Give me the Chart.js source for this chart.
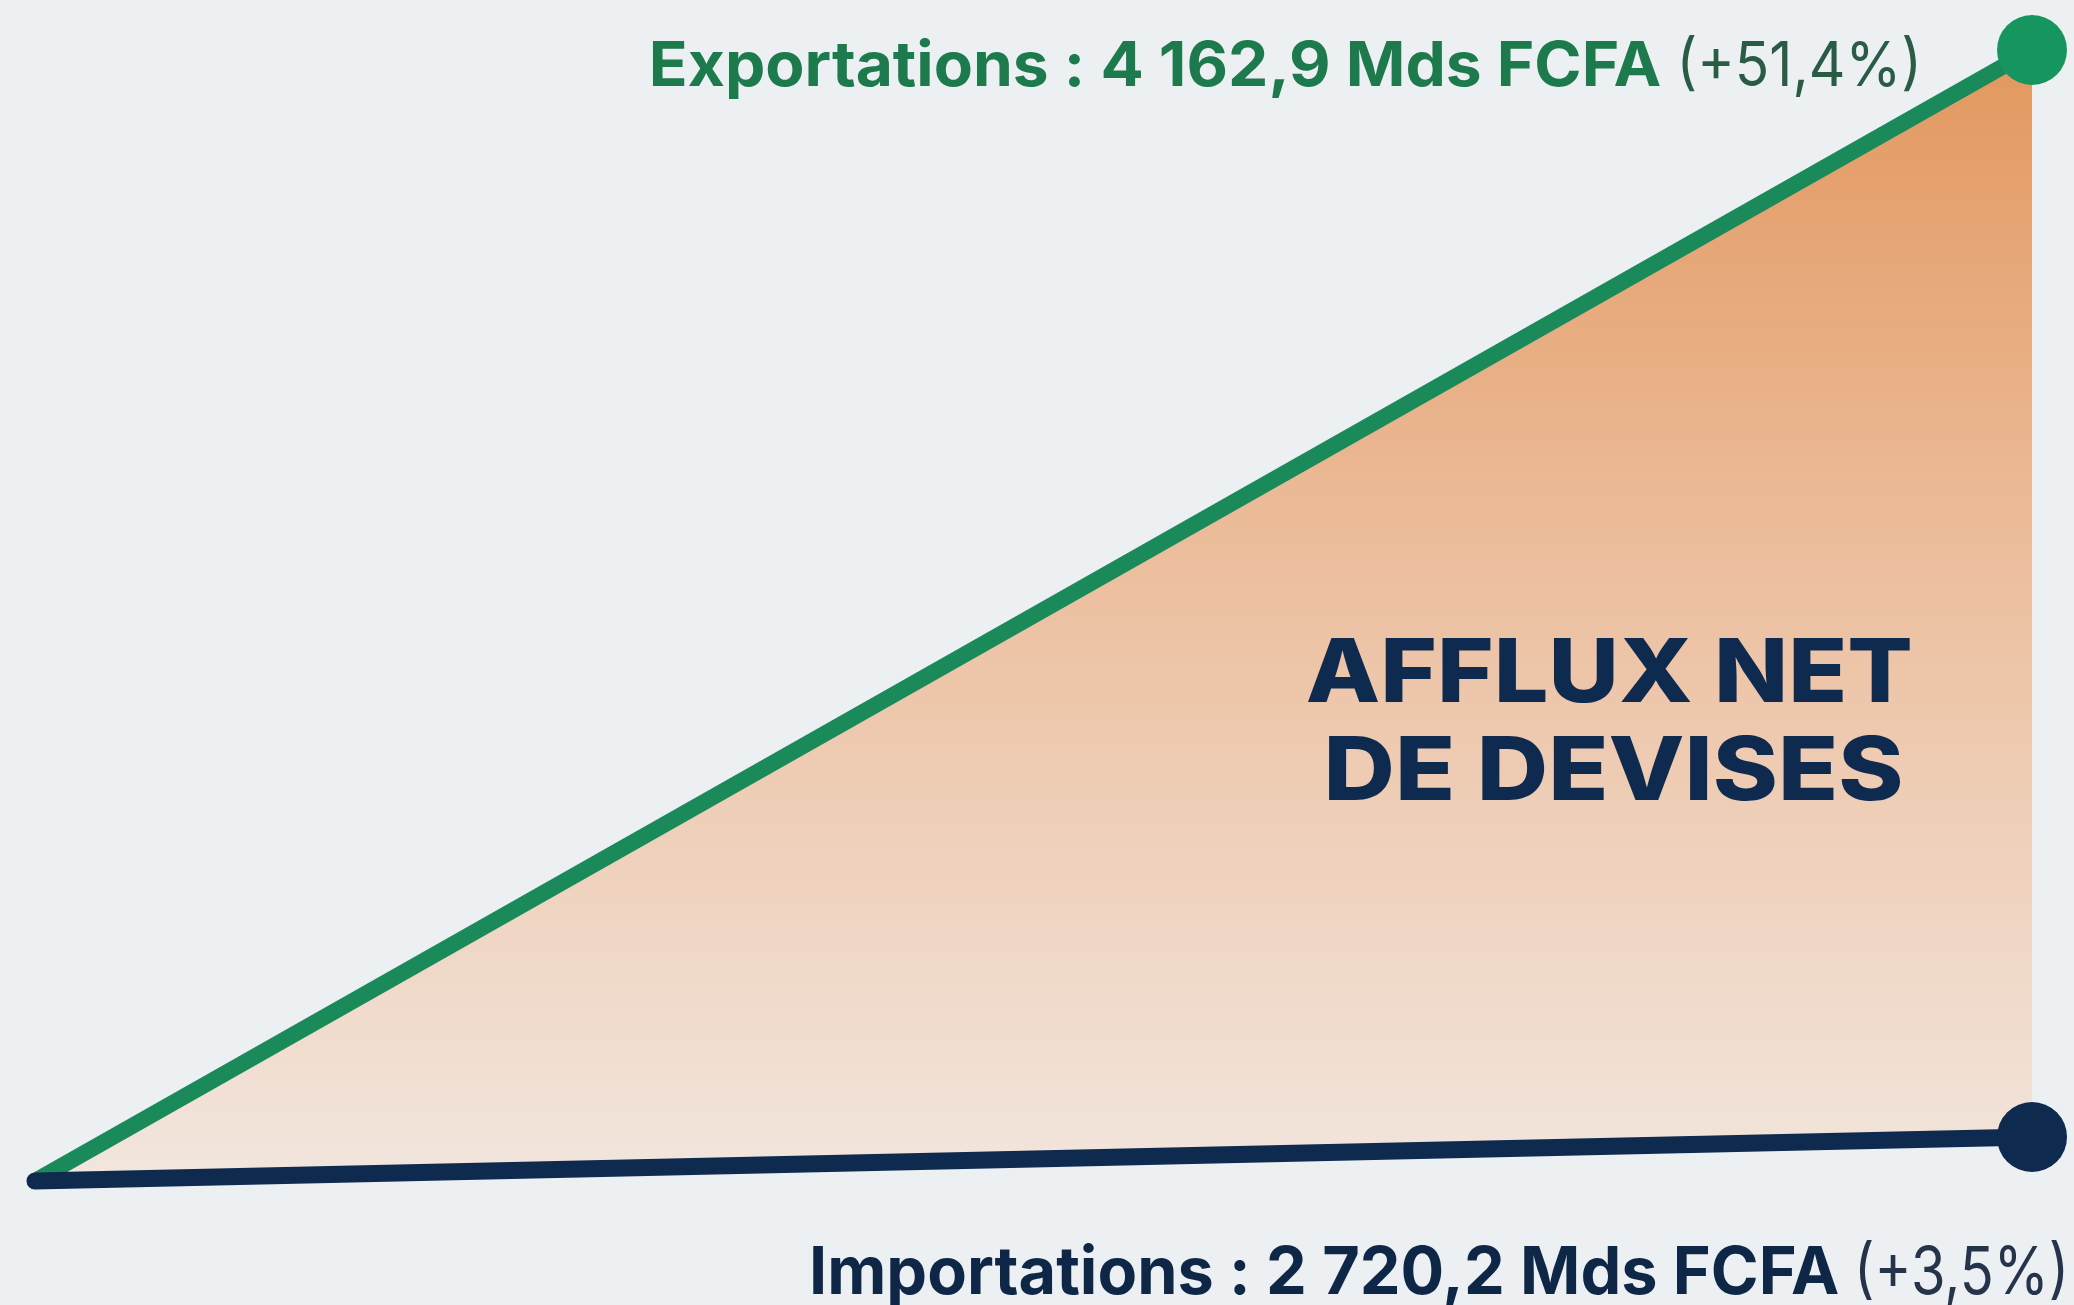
<!DOCTYPE html>
<html lang="fr">
<head>
<meta charset="utf-8">
<title>Afflux net de devises</title>
<script src="https://cdn.jsdelivr.net/npm/chart.js@4.4.1/dist/chart.umd.min.js"></script>
<style>
    html, body { margin: 0; padding: 0; background: #ecf0f3; }
    canvas { display: block; }
</style>
</head>
<body>
<canvas id="fluxChart" width="2074" height="1305"></canvas>
<script>
// x axis: the two periods compared
const periods = ['Avant', 'Après'];
// line heights as they appear in the picture (both start from the same point)
const exportLevels = [0, 51.4];
const importLevels = [0, 2.0];
// texts
const exportLabel = 'Exportations : 4 162,9 Mds FCFA';
const exportChange = '(+51,4%)';
const importLabel = 'Importations : 2 720,2 Mds FCFA';
const importChange = '(+3,5%)';
const centerLines = ['AFFLUX NET', 'DE DEVISES'];

const GREEN = '#1a8a5a';
const NAVY = '#0f2a4f';
const FONT = 'Inter, "Open Sans", "Noto Sans", sans-serif';

// draw text so that its ink spans exactly [left, right]
function fitText(ctx, text, font, color, left, right, baseline) {
    ctx.save();
    ctx.font = font;
    ctx.textAlign = 'left';
    ctx.textBaseline = 'alphabetic';
    const m = ctx.measureText(text);
    const w = m.actualBoundingBoxLeft + m.actualBoundingBoxRight;
    ctx.translate(left, baseline);
    ctx.scale((right - left) / w, 1);
    ctx.fillStyle = color;
    ctx.fillText(text, m.actualBoundingBoxLeft, 0);
    ctx.restore();
}

const labelsPlugin = {
    id: 'fluxLabels',
    afterDatasetsDraw(chart) {
        const ctx = chart.ctx;
        const top = chart.getDatasetMeta(1).data[1];
        const bottom = chart.getDatasetMeta(0).data[1];

        // top label (exports)
        fitText(ctx, exportLabel, '700 62px ' + FONT, '#1d7a4d', 653, 1660, top.y + 36);
        fitText(ctx, exportChange, '400 62px ' + FONT, '#2a5b45', 1682, top.x - 116, top.y + 36);

        // bottom label (imports)
        fitText(ctx, importLabel, '700 66px ' + FONT, '#0f2747', 813, 1838, bottom.y + 157);
        fitText(ctx, importChange, '400 66px ' + FONT, '#25344a', 1860, 2064, bottom.y + 157);

        // centre text
        fitText(ctx, centerLines[0], '800 88px ' + FONT, NAVY, 1308, 1910, 702);
        fitText(ctx, centerLines[1], '800 88px ' + FONT, NAVY, 1328, 1900, 800);
    }
};

const ctx = document.getElementById('fluxChart').getContext('2d');
const chart = new Chart(ctx, {
    type: 'line',
    data: {
        labels: periods,
        datasets: [
            {
                label: 'Importations',
                data: importLevels,
                borderColor: NAVY,
                borderWidth: 17,
                borderCapStyle: 'round',
                pointRadius: [0, 35],
                pointHoverRadius: [0, 35],
                pointBorderWidth: 0,
                pointBackgroundColor: NAVY,
                fill: false,
                clip: false,
            },
            {
                label: 'Exportations',
                data: exportLevels,
                borderColor: GREEN,
                borderWidth: 16,
                borderCapStyle: 'round',
                pointRadius: [0, 35],
                pointHoverRadius: [0, 35],
                pointBorderWidth: 0,
                pointBackgroundColor: '#17955f',
                fill: { target: 0 },
                backgroundColor: function (context) {
                    const area = context.chart.chartArea;
                    if (!area) {
                        return 'rgba(0,0,0,0)';
                    }
                    const g = context.chart.ctx.createLinearGradient(0, area.top, 0, area.bottom);
                    g.addColorStop(0, '#e2975e');
                    g.addColorStop(0.45, '#ecbe9d');
                    g.addColorStop(1, '#f2e6de');
                    return g;
                },
                clip: false,
            },
        ],
    },
    options: {
        responsive: false,
        devicePixelRatio: 1,
        animation: false,
        layout: {
            padding: { left: 26, right: 42, top: 50, bottom: 124 },
        },
        scales: {
            x: { display: false, offset: false },
            y: { display: false, min: 0, max: 51.4 },
        },
        plugins: {
            legend: { display: false },
            tooltip: { enabled: false },
        },
    },
    plugins: [labelsPlugin],
});
</script>
</body>
</html>
